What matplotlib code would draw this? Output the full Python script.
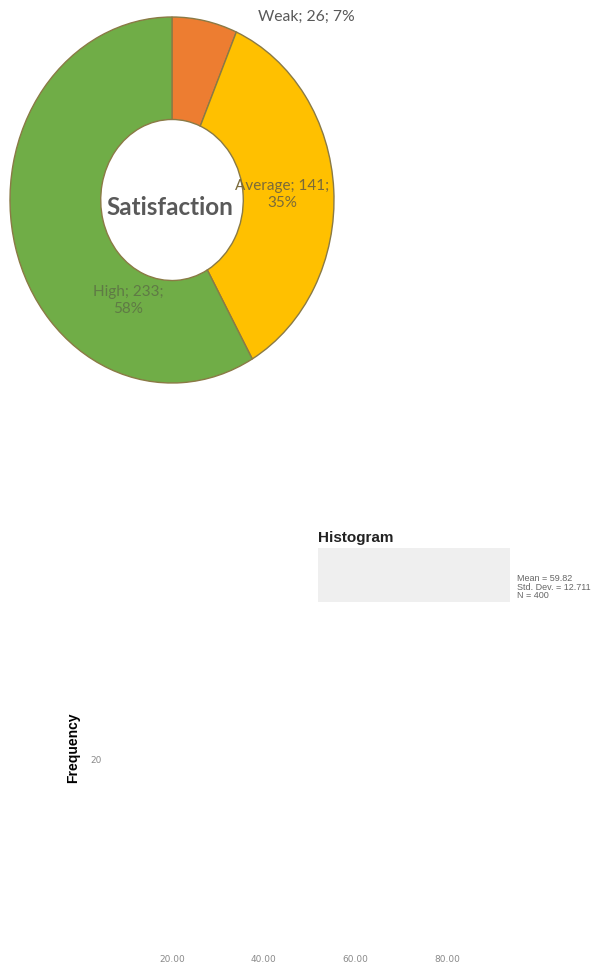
import matplotlib.pyplot as plt
from matplotlib.patches import Rectangle

# donut data
categories = ['Weak', 'Average', 'High']
counts = [26, 141, 233]
percents = [7, 35, 58]
colors = ['#ED7D31', '#FFC000', '#70AD47']

# histogram summary (bars are not visible in the source image)
hist_mean = 59.82
hist_std = 12.711
hist_n = 400
x_ticks = [20, 40, 60, 80]
y_ticks = [20]

W, H = 599, 967
fig = plt.figure(figsize=(W / 100, H / 100), dpi=100)


def fx(px):
    return px / W


def fy(py):
    return 1 - py / H


# ---- donut ----
ax = fig.add_axes([fx(10), fy(383), fx(324), 366 / H])
ax.pie(counts, colors=colors, startangle=90, counterclock=False, radius=1,
       wedgeprops=dict(width=0.56, edgecolor='#8a7a45', linewidth=1.0))
ax.set_aspect('auto')
ax.set_xlim(-1, 1)
ax.set_ylim(-1, 1)
ax.axis('off')

lab_font = ['Lato', 'DejaVu Sans']
ax.text(0.83, 1.00, f'{categories[0]}; {counts[0]}; {percents[0]}%', ha='center', va='center',
        fontsize=11.3, color='#595959', family=lab_font)
ax.text(0.68, 0.03, f'{categories[1]}; {counts[1]};\n{percents[1]}%', ha='center', va='center',
        fontsize=11, color='#7a6a3a', family=lab_font, linespacing=1.3)
ax.text(-0.27, -0.55, f'{categories[2]}; {counts[2]};\n{percents[2]}%', ha='center', va='center',
        fontsize=11, color='#5f7a45', family=lab_font, linespacing=1.3)
ax.text(-0.01, -0.04, 'Satisfaction', ha='center', va='center', fontsize=17.5,
        fontweight='bold', color='#595959', family=lab_font)

# ---- faded histogram ----
hx = fig.add_axes([fx(100), fy(945), fx(400), (945 - 610) / H])
hx.set_xlim(4.3, 91.6)
hx.set_ylim(0, 36.2)
hx.set_xticks(x_ticks)
hx.set_xticklabels([f'{v:.2f}' for v in x_ticks])
hx.set_yticks(y_ticks)
hx.tick_params(length=0, labelsize=6.5, labelcolor='#8a8a8a')
hx.tick_params(axis='x', pad=7)
hx.tick_params(axis='y', pad=-1)
for s in hx.spines.values():
    s.set_visible(False)
hx.set_ylabel('Frequency', fontsize=10, fontweight='bold', family='Liberation Sans')
hx.yaxis.set_label_coords((80 - 100) / 400, (945 - 748) / (945 - 610))

fig.text(fx(318), fy(538), 'Histogram', fontsize=11, fontweight='bold',
         family='Liberation Sans', ha='left', va='center', color='#222222')
fig.patches.append(Rectangle((fx(318), fy(602)), fx(192), 54 / H, transform=fig.transFigure,
                             facecolor='#efefef', edgecolor='none'))
fig.text(fx(517), fy(587), f'Mean = {hist_mean}\nStd. Dev. = {hist_std}\nN = {hist_n}',
         fontsize=6.5, family='Liberation Sans', color='#666666', ha='left', va='center',
         linespacing=0.95)

fig.savefig('out.png', dpi=100, facecolor='white')
